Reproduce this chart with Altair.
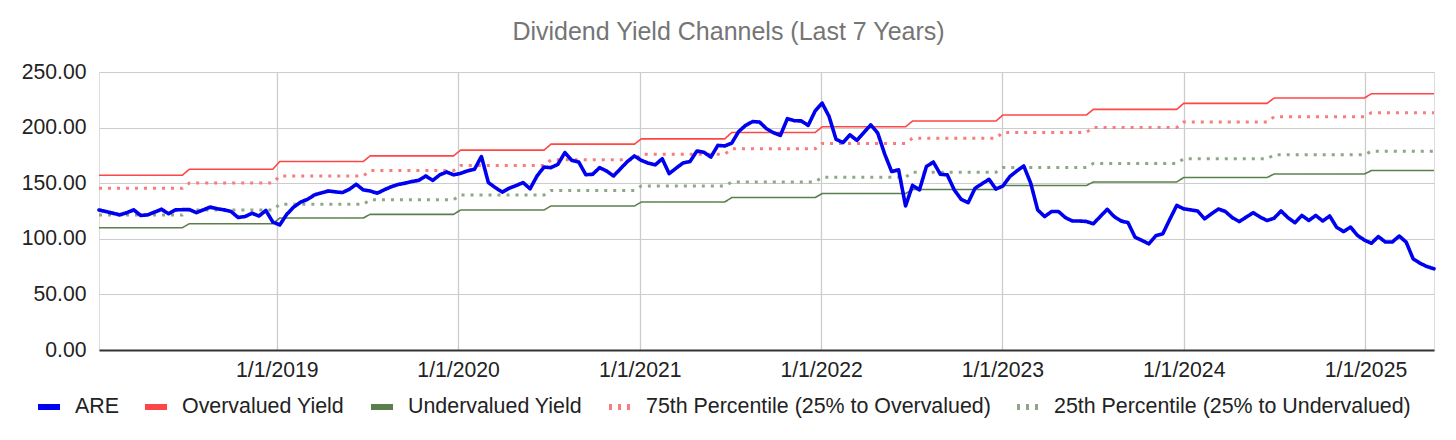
import altair as alt
import pandas as pd

# ---- data (biweekly points) ----
start_date = "2018-01-08"
n_points = 193

are_values = [
    125.9, 124.5, 123.0, 121.5, 123.5, 126.0, 121.0, 121.5, 124.0, 126.5,
    122.6, 126.0, 126.2, 126.3, 123.5, 126.0, 128.5, 127.0, 126.0, 124.5,
    119.2, 120.0, 123.0, 120.5, 125.5, 115.0, 112.5, 122.0, 128.5, 133.0,
    135.5, 139.5, 141.3, 143.0, 142.2, 141.6, 144.5, 149.0, 144.0, 143.0,
    141.0, 144.0, 146.7, 148.8, 150.0, 151.5, 152.6, 156.5, 152.5, 157.5,
    160.0, 157.5, 158.8, 161.1, 162.5, 174.0, 150.6, 146.0, 142.0, 145.5,
    147.9, 150.5, 145.0, 156.5, 164.5, 164.0, 167.0, 177.5, 170.5, 169.0,
    157.7, 158.0, 164.0, 161.0, 156.5, 163.0, 169.5, 174.5, 170.5, 168.0,
    166.5, 172.0, 158.6, 163.5, 168.2, 169.5, 179.0, 177.8, 173.5, 184.0,
    183.5, 186.0, 196.5, 202.0, 205.4, 205.0, 199.0, 195.4, 193.0, 208.0,
    206.2, 206.0, 202.0, 215.0, 222.0, 210.0, 189.5, 186.5, 193.5, 188.5,
    195.5, 202.5, 195.0, 176.2, 160.5, 162.0, 129.5, 148.0, 144.0, 165.0,
    169.0, 158.0, 157.5, 144.0, 135.5, 132.5, 145.5, 149.5, 153.5, 144.7,
    147.5, 156.0, 161.0, 165.5, 150.0, 126.0, 120.0, 124.5, 124.5, 119.0,
    116.0, 116.0, 115.6, 113.5, 120.0, 126.5, 120.0, 116.0, 114.5, 101.5,
    98.5, 95.5, 102.8, 104.5, 117.5, 130.0, 127.0, 126.0, 125.0, 118.0,
    122.5, 126.8, 124.5, 119.0, 115.5, 119.5, 123.5, 119.5, 116.4, 118.5,
    125.0, 119.0, 114.5, 121.0, 116.5, 121.0, 116.0, 120.5, 110.3, 106.5,
    110.5, 103.0, 98.8, 96.0, 102.0, 97.1, 97.1, 102.5, 97.0, 82.0,
    78.0, 75.0, 73.0,
]

# half-year levels (2018 H1 ... 2025 H1)
over_levels = [157.2, 162.6, 169.5, 174.6, 179.7, 185.1, 189.9, 195.6,
               200.7, 205.9, 211.3, 216.4, 221.8, 226.6, 230.5]
under_levels = [110.0, 113.6, 118.7, 122.0, 125.9, 129.5, 133.1, 137.1,
                140.7, 144.3, 147.9, 151.1, 155.1, 158.3, 161.4]
p75_levels = [145.4, 150.2, 156.5, 161.4, 165.9, 171.0, 176.1, 180.9,
              185.8, 190.5, 195.7, 200.2, 205.0, 209.7, 213.3]
p25_levels = [121.4, 125.9, 131.0, 135.2, 139.4, 143.4, 147.5, 151.1,
              155.4, 159.9, 164.1, 167.7, 171.9, 175.5, 178.8]

series_names = [
    "ARE",
    "Overvalued Yield",
    "Undervalued Yield",
    "75th Percentile (25% to Overvalued)",
    "25th Percentile (25% to Undervalued)",
]
series_colors = ["#0000f0", "#ff4646", "#5b7f4c", "#f77c7c", "#8fa788"]
tick_years = [2019, 2020, 2021, 2022, 2023, 2024, 2025]
y_ticks = [0, 50, 100, 150, 200, 250]

# ---- build table ----
dates = pd.date_range(start_date, periods=n_points, freq="14D")
half_idx = [(d.year - 2018) * 2 + (1 if d.month >= 7 else 0) for d in dates]
date_str = [d.strftime("%Y-%m-%dT00:00:00") for d in dates]

rows = []
for i, ds in enumerate(date_str):
    h = half_idx[i]
    rows.append({"date": ds, "series": series_names[0], "value": are_values[i]})
    rows.append({"date": ds, "series": series_names[1], "value": over_levels[h]})
    rows.append({"date": ds, "series": series_names[2], "value": under_levels[h]})
    rows.append({"date": ds, "series": series_names[3], "value": p75_levels[h]})
    rows.append({"date": ds, "series": series_names[4], "value": p25_levels[h]})
df = pd.DataFrame(rows)

FONT = "Liberation Sans"

color_scale = alt.Scale(domain=series_names, range=series_colors)
dash_scale = alt.Scale(domain=series_names,
                       range=[[1, 0], [1, 0], [1, 0], [3, 6], [3, 6]])

legend = alt.Legend(
    title=None, orient="none", legendX=-64, legendY=321,
    direction="horizontal", columns=5, symbolType="stroke",
    symbolSize=484, symbolStrokeWidth=6, labelFont=FONT, labelFontSize=21.4,
    labelColor="#222222", columnPadding=14, labelOffset=12, padding=0,
    labelLimit=0,
)

x_enc = alt.X(
    "date:T",
    scale=alt.Scale(domain=[alt.DateTime(year=2018, month=1, date=8),
                            alt.DateTime(year=2025, month=5, date=19)]),
    axis=alt.Axis(
        title=None, format="%-m/%-d/%Y",
        values=[alt.DateTime(year=y, month=1, date=1) for y in tick_years],
        labelFont=FONT, labelFontSize=21.2, labelColor="#222222",
        labelPadding=9, ticks=False, domainColor="#333333", domainWidth=2,
        grid=True, gridColor="#cccccc", gridWidth=1.3, labelFlush=False,
    ),
)
y_enc = alt.Y(
    "value:Q",
    scale=alt.Scale(domain=[0, 250], nice=False),
    axis=alt.Axis(
        title=None, values=y_ticks, format=".2f", labelFont=FONT,
        labelFontSize=21.2, labelColor="#222222", labelPadding=13,
        ticks=False, domain=False, grid=True, gridColor="#cccccc",
        gridWidth=1.2,
    ),
)
color_enc = alt.Color("series:N", scale=color_scale, legend=legend,
                      sort=series_names)
dash_enc = alt.StrokeDash("series:N", scale=dash_scale, legend=legend,
                          sort=series_names)

base = alt.Chart(df)

solid = base.transform_filter(
    alt.FieldOneOfPredicate(field="series", oneOf=series_names[1:3])
).mark_line(strokeWidth=1.6).encode(x=x_enc, y=y_enc, color=color_enc,
                                    strokeDash=dash_enc)

dotted = base.transform_filter(
    alt.FieldOneOfPredicate(field="series", oneOf=series_names[3:5])
).mark_line(strokeWidth=3, strokeCap="butt").encode(
    x=x_enc, y=y_enc, color=color_enc, strokeDash=dash_enc)

are_line = base.transform_filter(
    alt.FieldEqualPredicate(field="series", equal="ARE")
).mark_line(strokeWidth=3.6, strokeJoin="round", strokeCap="round").encode(
    x=x_enc, y=y_enc, color=color_enc, strokeDash=dash_enc)

chart = alt.layer(solid, dotted, are_line).properties(
    width=1335, height=278,
    autosize=alt.AutoSizeParams(type="none"),
    padding={"left": 91, "top": 64, "right": 14, "bottom": 82},
    title=alt.TitleParams(
        "Dividend Yield Channels (Last 7 Years)", font=FONT, fontSize=25,
        fontWeight="normal", color="#757575", anchor="middle", dx=-38,
        offset=23, dy=32, baseline="bottom",
    ),
).configure_view(stroke=None).configure(background="white")

chart.save("out.html", embed_options={"renderer": "svg", "actions": False})
